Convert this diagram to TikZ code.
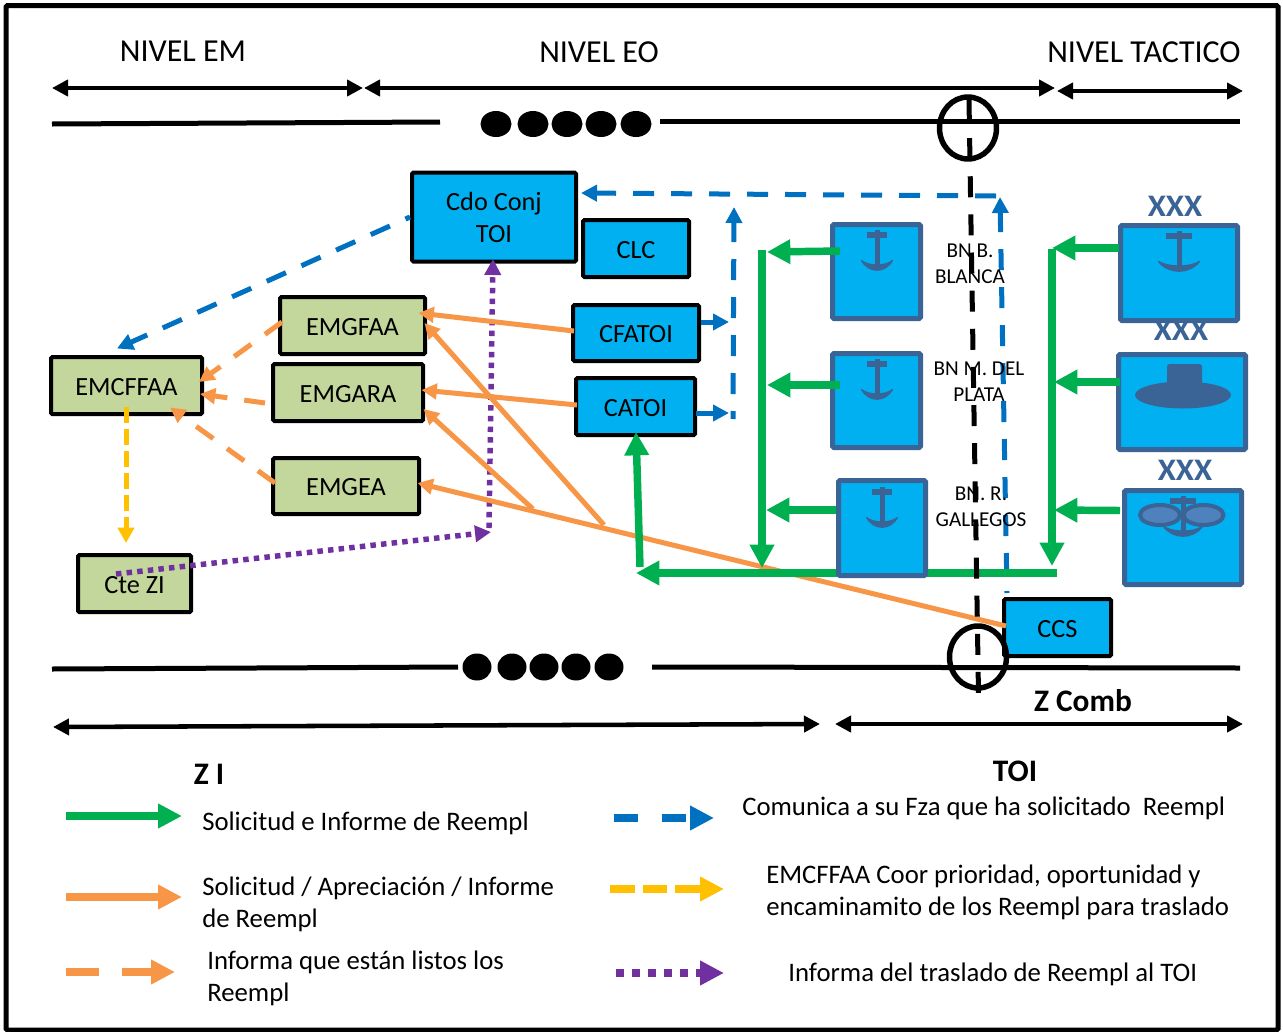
\documentclass[tikz,border=0pt]{standalone}
\usepackage{fontspec}
\setmainfont{Carlito}
\usetikzlibrary{arrows.meta,calc}
\definecolor{cyanbox}{HTML}{00B0F0}
\definecolor{iconb}{HTML}{3A6396}
\definecolor{greenbox}{HTML}{C3D69B}
\definecolor{lgreen}{HTML}{00B050}
\definecolor{lorange}{HTML}{F79646}
\definecolor{lblue}{HTML}{0070C0}
\definecolor{lyellow}{HTML}{FFC000}
\definecolor{lpurple}{HTML}{7030A0}
\definecolor{subfill}{HTML}{4F81BD}
\newcommand\fnode{\fontsize{19.7}{24}\selectfont}
\newcommand\fhead{\fontsize{24}{28}\selectfont}
\newcommand\flegend{\fontsize{20.05}{24}\selectfont}
\newcommand\fbn{\fontsize{15.9}{19.5}\selectfont}
\newcommand\fbold{\fontsize{23.5}{28}\selectfont\bfseries}
\newcommand\ancla[4]{%
  \begin{scope}[shift={(#1,#2)}]
    \fill[iconb] (-#3,-2.75) rectangle (#3,2.75);
    \fill[iconb] (-2.5,-5) rectangle (2.5,33);
    \filldraw[iconb,line width=0.9pt,line join=round] (-#4+0.5,25.5) .. controls (-#4*0.5,38.5) and (#4*0.5,38.5) .. (#4-0.5,25.5)
       .. controls (#4*0.5,31.5) and (-#4*0.5,31.5) .. cycle;
  \end{scope}}
\tikzset{
  x=0.75pt,y=-0.75pt,
  sized/.style 2 args={minimum width=#1*0.75pt,minimum height=#2*0.75pt},
  bluebox/.style={draw=black,line width=3pt,fill=cyanbox,rounded corners=1pt,font=\fnode,inner sep=0pt},
  greenlabel/.style={draw=black,line width=3pt,fill=greenbox,rounded corners=1pt,font=\fnode,inner sep=0pt},
  capsline/.style={text height=14.5pt,text depth=0pt},
  iconbox/.style={draw=iconb,line width=3.75pt,fill=cyanbox,rounded corners=1pt,inner sep=0pt},
  headtext/.style={font=\fhead,inner sep=0pt},
  boldtext/.style={font=\fbold,inner sep=0pt},
  legtext/.style={font=\flegend,inner sep=0pt,anchor=west,align=left},
  bntext/.style={font=\fbn,inner sep=0pt,align=center},
  xxxtext/.style={font=\fbold,text=iconb,inner sep=0pt},
  blackline/.style={draw=black,line width=3.75pt},
  dim/.style={line width=3.4pt,{Triangle[length=12pt,width=12pt]}-{Triangle[length=12pt,width=12pt]}},
  sdash/.style={dash pattern=on 15.75pt off 12.75pt},
  ora/.style={draw=lorange,line width=3.75pt,-{Triangle[length=11.5pt,width=11.5pt]}},
  oradash/.style={ora,sdash},
  blu/.style={draw=lblue,line width=3.75pt,-{Triangle[length=12pt,width=12pt]}},
  bludash/.style={blu,sdash},
  pur/.style={draw=lpurple,line width=4.1pt,dash pattern=on 4.1pt off 3.9pt,-{Triangle[length=12pt,width=12pt]}},
  yel/.style={draw=lyellow,line width=3.75pt,dash pattern=on 12pt off 4.5pt,-{Triangle[length=11.5pt,width=12pt]}},
  gre/.style={draw=lgreen,line width=5.6pt,-{Triangle[length=17.5pt,width=17.5pt]}},
  legarrow/.style={line width=6pt,-{Triangle[length=18pt,width=17.5pt]}},
}
\begin{document}
\begin{tikzpicture}
\useasboundingbox (0,0) rectangle (1283,1032);
\fill[white] (0,0) rectangle (1283,1032);
\draw[black,line width=3.75pt,rounded corners=1pt] (6,5.5) rectangle (1278,1030);

% level headers
\node[headtext] (tEM) at (183,51.5) {NIVEL EM};
\node[headtext] (tEO) at (599,52.5) {NIVEL EO};
\node[headtext] (tTA) at (1144,52.5) {NIVEL TACTICO};
\coordinate (a1) at (52,88); \coordinate (a2) at (363,88);
\coordinate (a3) at (364,88); \coordinate (a4) at (1055,88);
\coordinate (a5) at (1057,91); \coordinate (a6) at (1243,91);
\draw[dim] (a1) -- (a2);
\draw[dim] (a3) -- (a4);
\draw[dim] (a5) -- (a6);

% horizon lines
\coordinate (h1) at (52,124); \coordinate (h2) at (440,122);
\coordinate (h3) at (660,121); \coordinate (h4) at (1240,121);
\coordinate (h5) at (52,669); \coordinate (h6) at (458,667);
\coordinate (h7) at (652,667); \coordinate (h8) at (1240,668);
\draw[blackline] (h1) -- (h2);
\draw[blackline] (h3) -- (h4);
\draw[blackline] (h5) -- (h6);
\draw[blackline] (h7) -- (h8);
\foreach \cx in {496,533,567,601,636} \fill[black] (\cx,124) ellipse [x radius=15.5,y radius=13];
\foreach \cx in {477,512,544,576,609} \fill[black] (\cx,667) ellipse [x radius=14.5,y radius=13.5];

% bottom span arrows
\coordinate (b1) at (53,727); \coordinate (b2) at (820,724);
\coordinate (b3) at (835,724); \coordinate (b4) at (1243,724);
\draw[dim] (b1) -- (b2);
\draw[dim] (b3) -- (b4);
\node[boldtext] (tZC) at (1083,701) {Z Comb};
\node[boldtext] (tZI) at (209,774) {Z I};
\node[boldtext] (tTO) at (1015,771) {TOI};

% black-framed nodes
\node[bluebox,align=center,sized={164}{89}] (cdo) at (494,217) {Cdo Conj\\TOI};
\node[bluebox,capsline,sized={106}{57}] (clc) at (636,248.5) {CLC};
\node[bluebox,capsline,sized={126}{56}] (cfa) at (636,333) {CFATOI};
\node[bluebox,capsline,sized={119}{57}] (cat) at (635.5,406.5) {CATOI};
\node[bluebox,capsline,sized={107}{57}] (ccs) at (1057.5,627.5) {CCS};
\node[greenlabel,capsline,sized={145}{57}] (fa) at (352.5,325.5) {EMGFAA};
\node[greenlabel,capsline,sized={150}{57}] (ara) at (348,392.5) {EMGARA};
\node[greenlabel,capsline,sized={146}{56}] (ea) at (346,486) {EMGEA};
\node[greenlabel,capsline,sized={151}{57}] (cff) at (126.5,385.5) {EMCFFAA};
\node[greenlabel,capsline,sized={113}{57}] (cte) at (134.5,583.5) {Cte ZI};

% blue connectors
\coordinate (cornerUp) at (1000,197);
\coordinate (cornerL) at (996,196);
\coordinate (midUp) at (734,207);
\coordinate (midLow) at (733,419);
\coordinate (tipF) at (729,322);
\coordinate (tipA) at (729,413);
\draw[bludash,dash phase=19*0.75pt] ($(ccs.north)+(-50.5,-4)$) -- (cornerUp);
\draw[bludash] (cornerL) -- ($(cdo.east)+(3,-24)$);
\draw[bludash,dash phase=13*0.75pt] (midLow) -- (midUp);
\draw[blu] ($(cfa.east)+(0,-11)$) -- (tipF);
\draw[blu] ($(cat.east)+(-1,6.5)$) -- (tipA);
\draw[bludash,dash phase=16*0.75pt] ($(cdo.west)+(0,0)$) -- ($(cff.north)+(-9.5,-6.5)$);

% purple connectors
\coordinate (pbend) at (491,532);
\coordinate (pbend2) at (489,528);
\draw[pur] ($(cte.center)+(-18.5,-9.5)$) -- (pbend);
\draw[pur] (pbend2) -- ($(cdo.south)+(-1,-4.5)$);

% yellow
\draw[yel] ($(cff.south)+(-0.5,-9)$) -- ($(cte.north)+(-8.5,-10)$);

% orange dashed
\draw[oradash] ($(fa.west)+(4,-3.5)$) -- ($(cff.east)+(-5,-3.5)$);
\draw[oradash] ($(ara.west)+(-6,10.5)$) -- ($(cff.east)+(-4,8.5)$);
\draw[oradash] ($(ea.west)+(4,-3)$) -- ($(cff.south)+(43.5,-8.5)$);

% crosshair circles
\draw[black,line width=4.1pt] (968,128) ellipse [x radius=28.5,y radius=31];
\draw[black,line width=4.1pt] (978,657) ellipse [x radius=28.5,y radius=31];

% orange solid
\coordinate (jA) at (604,525);
\coordinate (jB) at (533,509);
\draw[ora] ($(cfa.west)+(3,-2)$) -- ($(fa.east)+(-8.5,-12.5)$);
\draw[ora] ($(cat.west)+(3,-1.5)$) -- ($(ara.east)+(-3.5,-2.5)$);
\draw[ora] ($(ccs.west)+(4,-1.5)$) -- ($(ea.east)+(-3.5,-3)$);
\draw[ora] (jA) -- ($(fa.east)+(-2.5,-2.5)$);
\draw[ora] (jB) -- ($(ara.east)+(-1.5,16.5)$);

% green main lines
\coordinate (gE) at (1057,573);
\coordinate (gW) at (636,573);
\coordinate (gUp) at (640,567);
\coordinate (vLt) at (762,250);
\coordinate (vLb) at (762,568);
\coordinate (vRt) at (1052,249);
\coordinate (vRb) at (1052,566);
\draw[gre] (gE) -- (gW);
\draw[gre] (gUp) -- ($(cat.south)+(0.5,-5)$);
\draw[gre] (vLt) -- (vLb);
\draw[gre] (vRt) -- (vRb);

% unit boxes
\node[iconbox,sized={88}{94}] (u1) at (876.5,271.5) {};
\node[iconbox,sized={88}{94}] (u2) at (876.5,400.5) {};
\node[iconbox,sized={87}{95}] (u3) at (882,528) {};
\node[iconbox,sized={117}{95}] (f1) at (1179,273) {};
\node[iconbox,sized={127}{95}] (f2) at (1182,402) {};
\node[iconbox,sized={117}{94}] (f3) at (1183,537.5) {};
\ancla{877}{235}{10}{16}
\ancla{877}{364}{10}{16}
\ancla{882}{492}{10}{16}
\ancla{1179}{236}{13}{21}
\ancla{1183}{501}{13}{20}
\fill[iconb,rounded corners=2pt] (1167,364) rectangle (1202,392);
\fill[iconb] (1183,395) ellipse [x radius=48,y radius=13.5];
\draw[iconb,fill=subfill,line width=3pt] (1160,515) ellipse [x radius=20,y radius=10];
\draw[iconb,fill=subfill,line width=3pt] (1203.5,515) ellipse [x radius=20,y radius=10];
\node[xxxtext] (x1) at (1175,206) {\scalebox{1.05}[1]{XXX}};
\node[xxxtext] (x2) at (1181,330) {\scalebox{1.05}[1]{XXX}};
\node[xxxtext] (x3) at (1185,470) {\scalebox{1.05}[1]{XXX}};

% green branch arrows
\coordinate (vL1) at (767,252);
\coordinate (vL2) at (767,385);
\coordinate (vL3) at (766,510);
\coordinate (vR1) at (1052,248);
\coordinate (vR2) at (1054,382);
\coordinate (vR3) at (1054,510);
\draw[gre] ($(u1.west)+(10,-20.5)$) -- (vL1);
\draw[gre] ($(u2.west)+(10,-15.5)$) -- (vL2);
\draw[gre] ($(u3.west)+(0,-18)$) -- (vL3);
\draw[gre] ($(f1.west)+(1,-25)$) -- (vR1);
\draw[gre] ($(f2.west)+(4,-20)$) -- (vR2);
\draw[gre] ($(f3.west)+(-2,-27)$) -- (vR3);

% black dashed boundary
\coordinate (bdTop) at (969,100);
\coordinate (bdBot) at (978.5,694);
\draw[black,line width=3.75pt,dash pattern=on 15.75pt off 12.85pt] (bdTop) -- (bdBot);

% base labels
\node[bntext] (bn1) at (970,264) {BN B.\\BLANCA};
\node[bntext] (bn2) at (979,382) {BN M. DEL\\PLATA};
\node[bntext] (bn3) at (981,506.5) {BN. R.\\GALLEGOS};

% legend
\coordinate (l1a) at (66,816); \coordinate (l1b) at (182,816);
\coordinate (l2a) at (66,897); \coordinate (l2b) at (182,897);
\coordinate (l3a) at (66,972); \coordinate (l3b) at (175,972);
\coordinate (l4a) at (614,818); \coordinate (l4b) at (714,818);
\coordinate (l5a) at (610,889); \coordinate (l5b) at (724,889);
\coordinate (l6a) at (616,973); \coordinate (l6b) at (724,973);
\draw[legarrow,draw=lgreen] (l1a) -- (l1b);
\draw[legarrow,draw=lorange] (l2a) -- (l2b);
\draw[legarrow,draw=lorange,dash pattern=on 24.75pt off 17.25pt] (l3a) -- (l3b);
\draw[legarrow,draw=lblue,dash pattern=on 18pt off 18pt] (l4a) -- (l4b);
\draw[legarrow,draw=lyellow,dash pattern=on 18.5pt off 6pt] (l5a) -- (l5b);
\draw[legarrow,draw=lpurple,dash pattern=on 6pt off 6pt] (l6a) -- (l6b);
\node[legtext] (t1) at (202,823.5) {Solicitud e Informe de Reempl};
\node[legtext] (t2) at (202,904.5) {Solicitud / Apreciación / Informe\\de Reempl};
\node[legtext] (t3) at (207,978.5) {Informa que están listos los\\Reempl};
\node[legtext] (t4) at (742,808.5) {Comunica a su Fza que ha solicitado\ \ Reempl};
\node[legtext] (t5) at (766,892.5) {EMCFFAA Coor prioridad, oportunidad y\\encaminamito de los Reempl para traslado};
\node[legtext] (t6) at (788,974.5) {Informa del traslado de Reempl al TOI};
\end{tikzpicture}
\end{document}
